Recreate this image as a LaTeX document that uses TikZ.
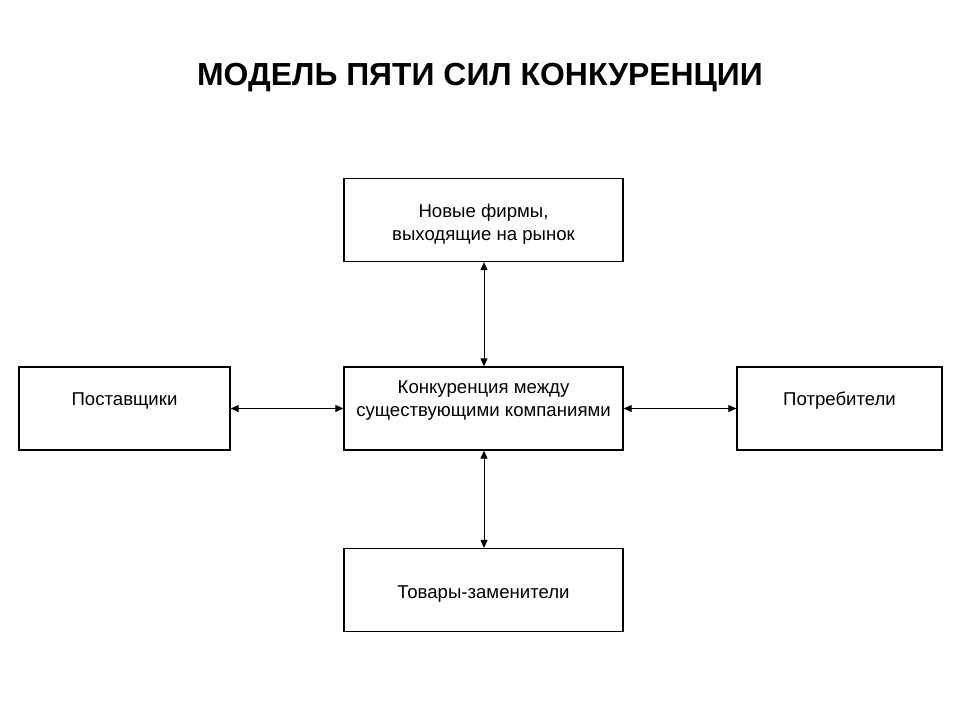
\documentclass[tikz,border=0pt]{standalone}
\usepackage{fontspec}
\setmainfont{Liberation Sans}
\usetikzlibrary{arrows.meta}
\begin{document}
\begin{tikzpicture}[x=1pt,y=-1pt,
  box/.style={draw=black,line width=1.3pt,minimum width=#1,minimum height=83pt,inner sep=0pt},
  lbl/.style={font=\fontsize{18.6}{23}\selectfont,align=center,inner sep=0pt},
  conn/.style={line width=1pt,{Triangle[length=8pt,width=7pt]}-{Triangle[length=8pt,width=7pt]}}]
\useasboundingbox (0,0) rectangle (960,720);
\node (title) at (480,78) {\fontsize{31.9}{36}\selectfont\bfseries МОДЕЛЬ ПЯТИ СИЛ КОНКУРЕНЦИИ};
\node[box=279pt] (top) at (483.5,220) {};
\node[box=279pt] (mid) at (483.5,408.5) {};
\node[box=211pt] (left) at (124.5,408.5) {};
\node[box=205pt] (right) at (839.5,408.5) {};
\node[box=279pt] (bot) at (483.5,590) {};
\node[lbl] (ttop) at ([yshift=-4.5pt]top.center) {Новые фирмы,\\выходящие на рынок};
\node[lbl] (tmid) at ([yshift=7.5pt]mid.center) {Конкуренция между\\существующими компаниями};
\node[lbl] (tleft) at ([yshift=7.5pt]left.center) {Поставщики};
\node[lbl] (tright) at ([yshift=7.5pt]right.center) {Потребители};
\node[lbl] (tbot) at ([yshift=-4pt]bot.center) {Товары-заменители};
\draw[conn] (top.south -| 484,0) -- (mid.north -| 484,0);
\draw[conn] (mid.south -| 484,0) -- (bot.north -| 484,0);
\draw[conn] (left.east) -- (mid.west);
\draw[conn] (mid.east) -- (right.west);
\end{tikzpicture}
\end{document}
